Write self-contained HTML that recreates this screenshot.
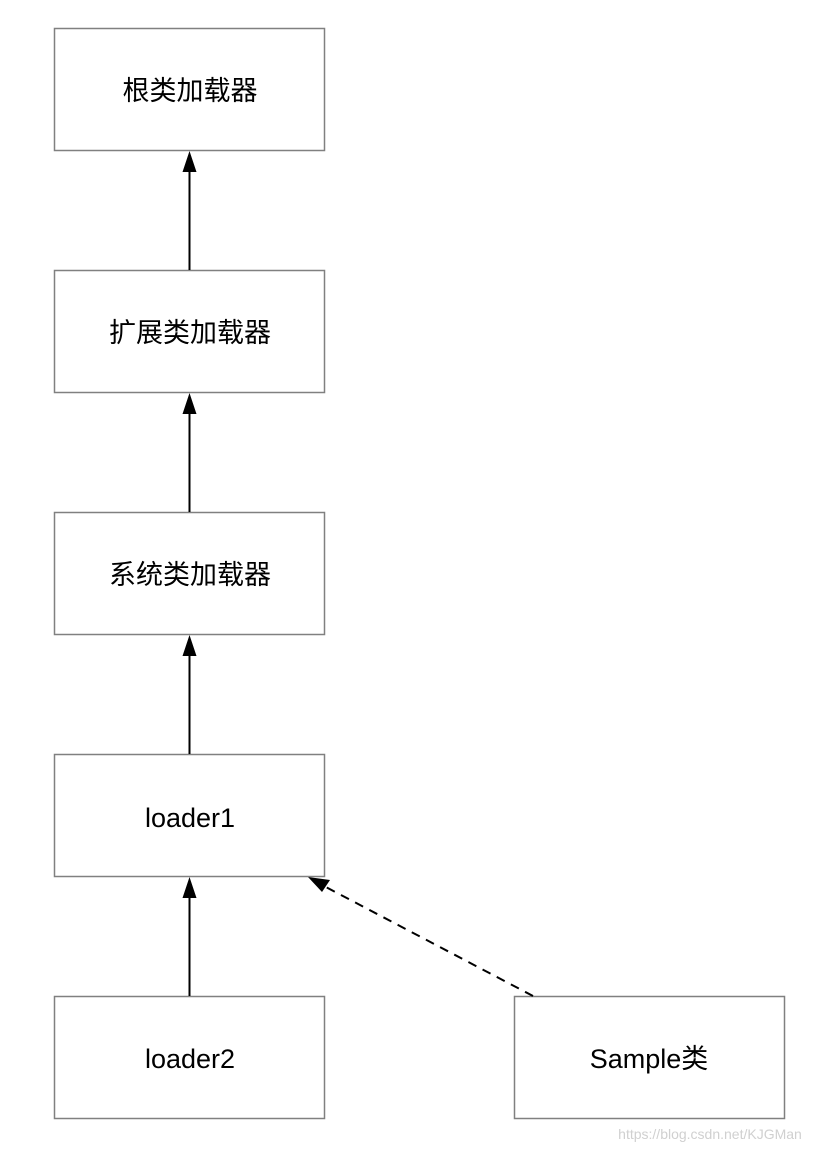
<!DOCTYPE html>
<html><head><meta charset="utf-8"><style>
body{margin:0;background:#fff;}
svg text{font-family:"Liberation Sans","Noto Sans CJK SC",sans-serif;}
</style></head><body>
<svg width="836" height="1152" viewBox="0 0 836 1152" xmlns="http://www.w3.org/2000/svg">
<g fill="#fff" stroke="#808080" stroke-width="1.5">
<rect x="54.5" y="28.5" width="270" height="122"/>
<rect x="54.5" y="270.5" width="270" height="122"/>
<rect x="54.5" y="512.5" width="270" height="122"/>
<rect x="54.5" y="754.5" width="270" height="122"/>
<rect x="54.5" y="996.5" width="270" height="122"/>
<rect x="514.5" y="996.5" width="270" height="122"/>
</g>
<g font-size="27" fill="#000" text-anchor="middle">
<text x="190" y="100">根类加载器</text>
<text x="190" y="342">扩展类加载器</text>
<text x="190" y="584">系统类加载器</text>
<text x="190" y="827">loader1</text>
<text x="190" y="1068">loader2</text>
<text x="649" y="1068">Sample类</text>
</g>
<g stroke="#000" stroke-width="2">
<line x1="189.5" y1="270" x2="189.5" y2="168"/>
<line x1="189.5" y1="512" x2="189.5" y2="410"/>
<line x1="189.5" y1="754" x2="189.5" y2="652"/>
<line x1="189.5" y1="996" x2="189.5" y2="894"/>
<line x1="533" y1="996" x2="322" y2="885" stroke-dasharray="9,7"/>
</g>
<g fill="#000">
<polygon points="189.5,151 182.5,172 196.5,172"/>
<polygon points="189.5,393 182.5,414 196.5,414"/>
<polygon points="189.5,635 182.5,656 196.5,656"/>
<polygon points="189.5,877 182.5,898 196.5,898"/>
<polygon points="308,877 330,880 322,892"/>
</g>
<text x="710" y="1139" font-size="14" fill="#d0d0d0" text-anchor="middle">https://blog.csdn.net/KJGMan</text>
</svg>
</body></html>
